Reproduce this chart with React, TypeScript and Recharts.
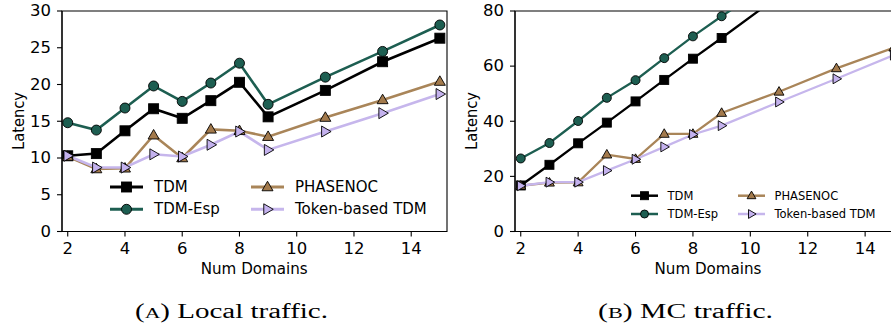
import { LineChart, Line, XAxis, YAxis, ReferenceArea } from 'recharts';

const domains = [2, 3, 4, 5, 6, 7, 8, 9, 11, 13, 15];

// Local traffic latency per scheme
const localTdm = [10.3, 10.6, 13.7, 16.7, 15.4, 17.8, 20.3, 15.6, 19.2, 23.1, 26.3];
const localTdmEsp = [14.8, 13.8, 16.8, 19.8, 17.7, 20.2, 22.9, 17.3, 21.0, 24.5, 28.1];
const localPhasenoc = [10.2, 8.5, 8.6, 13.1, 10.0, 13.9, 13.7, 12.9, 15.5, 17.9, 20.4];
const localToken = [10.3, 8.7, 8.7, 10.5, 10.2, 11.8, 13.6, 11.1, 13.6, 16.1, 18.7];

// MC traffic latency per scheme (TDM / TDM-Esp run past the top at larger sizes)
const mcTdm = [16.7, 24.2, 32.0, 39.5, 47.2, 55.0, 62.7, 70.2, 85.5, 101, 116];
const mcTdmEsp = [26.5, 32.1, 40.1, 48.5, 54.9, 62.9, 70.8, 78.1, 92, 107, 122];
const mcPhasenoc = [16.6, 17.7, 17.8, 27.9, 26.3, 35.4, 35.4, 43.0, 50.7, 59.2, 66.7];
const mcToken = [16.6, 17.9, 17.9, 22.1, 26.2, 30.7, 35.2, 38.4, 47.0, 55.4, 64.0];

const xTicks = [2, 4, 6, 8, 10, 12, 14];
const localYTicks = [0, 5, 10, 15, 20, 25, 30];
const mcYTicks = [0, 20, 40, 60, 80];

const X_DOMAIN: [number, number] = [1.8, 15.25];
const FONT = '"DejaVu Sans", sans-serif';
// the figure text is a little wider than plain DejaVu at this size
const STRETCH = 1.1;

type Shape = 'square' | 'circle' | 'up' | 'right';

const series: { key: string; name: string; color: string; fill: string; shape: Shape }[] = [
  { key: 'tdm', name: 'TDM', color: '#000000', fill: '#000000', shape: 'square' },
  { key: 'esp', name: 'TDM-Esp', color: '#1d5e51', fill: '#1d5e51', shape: 'circle' },
  { key: 'phase', name: 'PHASENOC', color: '#a98559', fill: '#a37a4c', shape: 'up' },
  { key: 'token', name: 'Token-based TDM', color: '#c6b6ec', fill: '#c4b2ee', shape: 'right' },
];

function buildRows(tdm: number[], esp: number[], phase: number[], token: number[]) {
  return domains.map((d, i) => ({ domains: d, tdm: tdm[i], esp: esp[i], phase: phase[i], token: token[i] }));
}

const localRows = buildRows(localTdm, localTdmEsp, localPhasenoc, localToken);
const mcRows = buildRows(mcTdm, mcTdmEsp, mcPhasenoc, mcToken);

function Marker({ cx, cy, shape, size, fill }: { cx?: number; cy?: number; shape: Shape; size: number; fill: string }) {
  if (cx == null || cy == null) return null;
  const h = size / 2;
  const common = { fill, stroke: '#000', strokeWidth: 0.9 };
  if (shape === 'square') return <rect x={cx - h} y={cy - h} width={size} height={size} {...common} />;
  if (shape === 'circle') return <circle cx={cx} cy={cy} r={h} {...common} />;
  if (shape === 'up') {
    const pts = `${cx},${cy - h * 1.15} ${cx - h * 1.1},${cy + h * 0.75} ${cx + h * 1.1},${cy + h * 0.75}`;
    return <polygon points={pts} {...common} />;
  }
  const pts = `${cx + h * 1.15},${cy} ${cx - h * 0.75},${cy - h * 1.1} ${cx - h * 0.75},${cy + h * 1.1}`;
  return <polygon points={pts} {...common} />;
}

function XTick({ x, y, payload }: any) {
  return (
    <g transform={`translate(${x},${y}) scale(${STRETCH},1)`}>
      <text textAnchor="middle" dy="0.71em" fontSize={15} fontFamily={FONT} fill="#000">
        {payload.value}
      </text>
    </g>
  );
}

function YTick({ x, y, payload }: any) {
  return (
    <g transform={`translate(${x},${y}) scale(${STRETCH},1)`}>
      <text textAnchor="end" dy="0.355em" fontSize={15} fontFamily={FONT} fill="#000">
        {payload.value}
      </text>
    </g>
  );
}

type PanelProps = {
  rows: ReturnType<typeof buildRows>;
  yMax: number;
  yTicks: number[];
  width: number;
  yAxisWidth: number;
  rightMargin: number;
  lineWidth: number;
  markerSize: number;
};

function Panel({ rows, yMax, yTicks, width, yAxisWidth, rightMargin, lineWidth, markerSize }: PanelProps) {
  const spine = { stroke: '#000', strokeWidth: 1.1 };
  return (
    <LineChart width={width} height={290} data={rows} margin={{ top: 11, right: rightMargin, bottom: 8.5, left: 0 }}>
      <XAxis
        dataKey="domains"
        type="number"
        domain={X_DOMAIN}
        allowDataOverflow
        ticks={xTicks}
        height={50}
        tickSize={5}
        tickMargin={7}
        tick={<XTick />}
        stroke="#000"
        tickLine={spine}
        axisLine={spine}
      />
      <YAxis
        type="number"
        domain={[0, yMax]}
        allowDataOverflow
        ticks={yTicks}
        width={yAxisWidth}
        tickSize={5}
        tickMargin={6}
        tick={<YTick />}
        stroke="#000"
        tickLine={spine}
        axisLine={spine}
      />
      <ReferenceArea x1={X_DOMAIN[0]} x2={X_DOMAIN[1]} y1={0} y2={yMax} fill="none" stroke="#000" strokeWidth={1.1} />
      {series.map((s) => (
        <Line
          key={s.key}
          dataKey={s.key}
          name={s.name}
          type="linear"
          stroke={s.color}
          strokeWidth={lineWidth}
          isAnimationActive={false}
          dot={(p: any) => (
            <Marker key={`${s.key}-${p.index}`} cx={p.cx} cy={p.cy} shape={s.shape} size={markerSize} fill={s.fill} />
          )}
        />
      ))}
    </LineChart>
  );
}

function LegendBlock({ cols, rowsY, lineLen, textGap, fontSize, markerSize, lineWidth }: {
  cols: number[];
  rowsY: number[];
  lineLen: number;
  textGap: number;
  fontSize: number;
  markerSize: number;
  lineWidth: number;
}) {
  return (
    <g>
      {series.map((s, i) => {
        const x = cols[Math.floor(i / 2)];
        const y = rowsY[i % 2];
        return (
          <g key={s.key}>
            <line x1={x} x2={x + lineLen} y1={y} y2={y} stroke={s.color} strokeWidth={lineWidth} />
            <Marker cx={x + lineLen / 2} cy={y} shape={s.shape} size={markerSize} fill={s.fill} />
            <text x={x + lineLen + textGap} y={y} dominantBaseline="central" fontSize={fontSize} fontFamily={FONT} fill="#000">
              {s.name}
            </text>
          </g>
        );
      })}
    </g>
  );
}

function AxisTitle({ x, y, text, length, vertical }: { x: number; y: number; text: string; length: number; vertical?: boolean }) {
  return (
    <text
      transform={`translate(${x},${y})${vertical ? ' rotate(-90)' : ''}`}
      textAnchor="middle"
      dominantBaseline="central"
      fontSize={15}
      fontFamily={FONT}
      textLength={length}
      lengthAdjust="spacingAndGlyphs"
    >
      {text}
    </text>
  );
}

export default function App() {
  return (
    <div style={{ position: 'fixed', left: 0, top: 0, width: 891, height: 327, background: '#fff', overflow: 'hidden' }}>
      <div style={{ position: 'absolute', left: 0, top: 0 }}>
        <Panel rows={localRows} yMax={30} yTicks={localYTicks} width={455} yAxisWidth={62} rightMargin={8} lineWidth={2.6} markerSize={10} />
      </div>
      <div style={{ position: 'absolute', left: 450, top: 0 }}>
        <Panel rows={mcRows} yMax={80} yTicks={mcYTicks} width={460} yAxisWidth={65} rightMargin={9} lineWidth={2.3} markerSize={9} />
      </div>
      <svg width={891} height={327} style={{ position: 'absolute', left: 0, top: 0, pointerEvents: 'none' }}>
        <LegendBlock cols={[110, 251]} rowsY={[187, 209.3]} lineLen={33} textGap={11} fontSize={15} markerSize={10} lineWidth={3} />
        <LegendBlock cols={[631, 738]} rowsY={[195.7, 214]} lineLen={27} textGap={9.5} fontSize={11.5} markerSize={8} lineWidth={2.5} />

        <AxisTitle x={18.5} y={121} text="Latency" length={58} vertical />
        <AxisTitle x={471.5} y={121} text="Latency" length={58} vertical />
        <AxisTitle x={254.2} y={269} text="Num Domains" length={107} />
        <AxisTitle x={708} y={269} text="Num Domains" length={107} />

        <text x={135} y={318} fontSize={20} fontFamily='"Liberation Serif", serif' textLength={193} lengthAdjust="spacingAndGlyphs">
          (<tspan fontSize={15}>A</tspan>) Local traffic.
        </text>
        <text x={598} y={318} fontSize={20} fontFamily='"Liberation Serif", serif' textLength={175} lengthAdjust="spacingAndGlyphs">
          (<tspan fontSize={15}>B</tspan>) MC traffic.
        </text>
      </svg>
    </div>
  );
}
